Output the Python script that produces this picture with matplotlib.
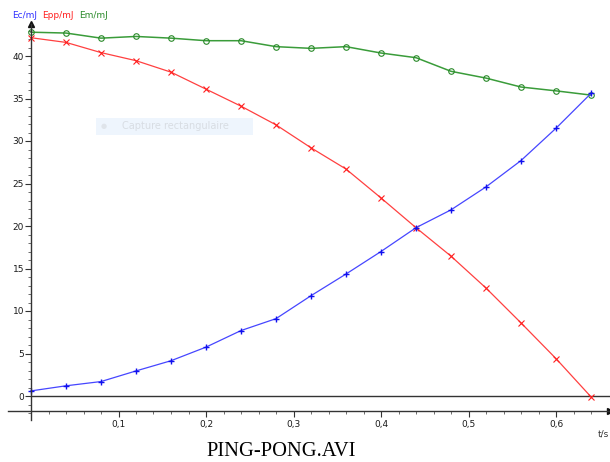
import numpy as np
import matplotlib
matplotlib.use('Agg')
import matplotlib.pyplot as plt
from matplotlib.patches import Rectangle

# data (t in s, energies in mJ)
t = [0.00, 0.04, 0.08, 0.12, 0.16, 0.20, 0.24, 0.28, 0.32,
     0.36, 0.40, 0.44, 0.48, 0.52, 0.56, 0.60, 0.64]
ec = [0.6, 1.2, 1.7, 2.95, 4.15, 5.75, 7.7, 9.1, 11.8,
      14.35, 17.0, 19.8, 21.9, 24.6, 27.7, 31.5, 35.6]
epp = [42.15, 41.6, 40.4, 39.45, 38.1, 36.1, 34.1, 31.9, 29.2,
       26.7, 23.3, 19.8, 16.45, 12.7, 8.6, 4.4, -0.1]
em = [42.8, 42.7, 42.1, 42.3, 42.1, 41.8, 41.8, 41.1, 40.9,
      41.1, 40.35, 39.8, 38.2, 37.4, 36.35, 35.9, 35.4]

x_labels = ['0,1', '0,2', '0,3', '0,4', '0,5', '0,6']
y_major = [0, 5, 10, 15, 20, 25, 30, 35, 40]

W, H = 610, 462
fig = plt.figure(figsize=(W / 100, H / 100), dpi=100)
ax = fig.add_axes([0, 0, 1, 1])

# pixel mapping: x_px = 31 + 875*t ; y_px = 396 - 8.5*E
ax.set_xlim(-31 / 875, (W - 31) / 875)
ax.set_ylim((396 - H) / 8.5, 396 / 8.5)
ax.patch.set_alpha(0)

ax.spines['top'].set_visible(False)
ax.spines['right'].set_visible(False)
ax.spines['left'].set_position(('data', 0))
ax.spines['left'].set_bounds(-2.8, 43.8)
ax.spines['bottom'].set_position(('data', -1.8))
ax.spines['bottom'].set_bounds(-0.026, 0.662)
for s in ['left', 'bottom']:
    ax.spines[s].set_color('#333333')
    ax.spines[s].set_linewidth(1.0)

ax.set_xticks(np.arange(0.1, 0.61, 0.1))
ax.set_xticklabels(x_labels)
ax.set_xticks(np.arange(0.02, 0.65, 0.02), minor=True)
ax.set_yticks(y_major)
ax.set_yticklabels([str(v) for v in y_major])
ax.set_yticks(np.arange(-2, 44, 1), minor=True)
ax.tick_params(which='major', length=4, width=0.8, color='#333333',
               labelsize=6.5, labelcolor='#1a1a1a', pad=2)
ax.tick_params(which='minor', length=2, width=0.6, color='#555555')
ax.tick_params(axis='y', which='major', pad=1)

# arrows at the ends of the axes
ax.plot(0, 43.8, marker='^', color='#111111', markersize=4, clip_on=False)
ax.plot(0.662, -1.8, marker='>', color='#111111', markersize=4, clip_on=False)

# zero line
ax.plot([0, 0.662], [0, 0], color='#333333', lw=1.0)

ax.plot(t, em, color='#3a9c3a', lw=1.1, marker='o', markersize=4,
        markerfacecolor='none', markeredgecolor='#2a8a2a',
        markeredgewidth=0.8, clip_on=False)
ax.plot(t, epp, color='#ff4040', lw=0.9, marker='x', markersize=4,
        markeredgewidth=0.8, markeredgecolor='#ff2020', clip_on=False)
ax.plot(t, ec, color='#4646ff', lw=0.9, marker='+', markersize=5,
        markeredgewidth=1.0, markeredgecolor='#1010ee', clip_on=False)

# legend texts at the top
fig.text(12 / W, 1 - 15 / H, 'Ec/mJ', color='#3030ff', fontsize=6.5, va='center')
fig.text(42 / W, 1 - 15 / H, 'Epp/mJ', color='#ff2020', fontsize=6.5, va='center')
fig.text(79 / W, 1 - 15 / H, 'Em/mJ', color='#2a8a2a', fontsize=6.5, va='center')

fig.text(598 / W, 1 - 434 / H, 't/s', color='#333333', fontsize=6.5, va='center')

# faded "Capture rectangulaire" tooltip
fig.patches.append(Rectangle((96 / W, 1 - 135 / H), 157 / W, 17 / H,
                             transform=fig.transFigure, facecolor='#eef5fd',
                             edgecolor='none'))
fig.text(104 / W, 1 - 126 / H, '\u25cf', color='#dfe4ea', fontsize=5,
         ha='center', va='center')
fig.text(122 / W, 1 - 126 / H, 'Capture rectangulaire', color='#d8dde3',
         fontsize=7, va='center')

fig.text(281 / W, 1 - 451 / H, 'PING-PONG.AVI', family='Liberation Serif',
         fontsize=14.8, ha='center', va='center', color='black')

fig.savefig('out.png', dpi=100)
